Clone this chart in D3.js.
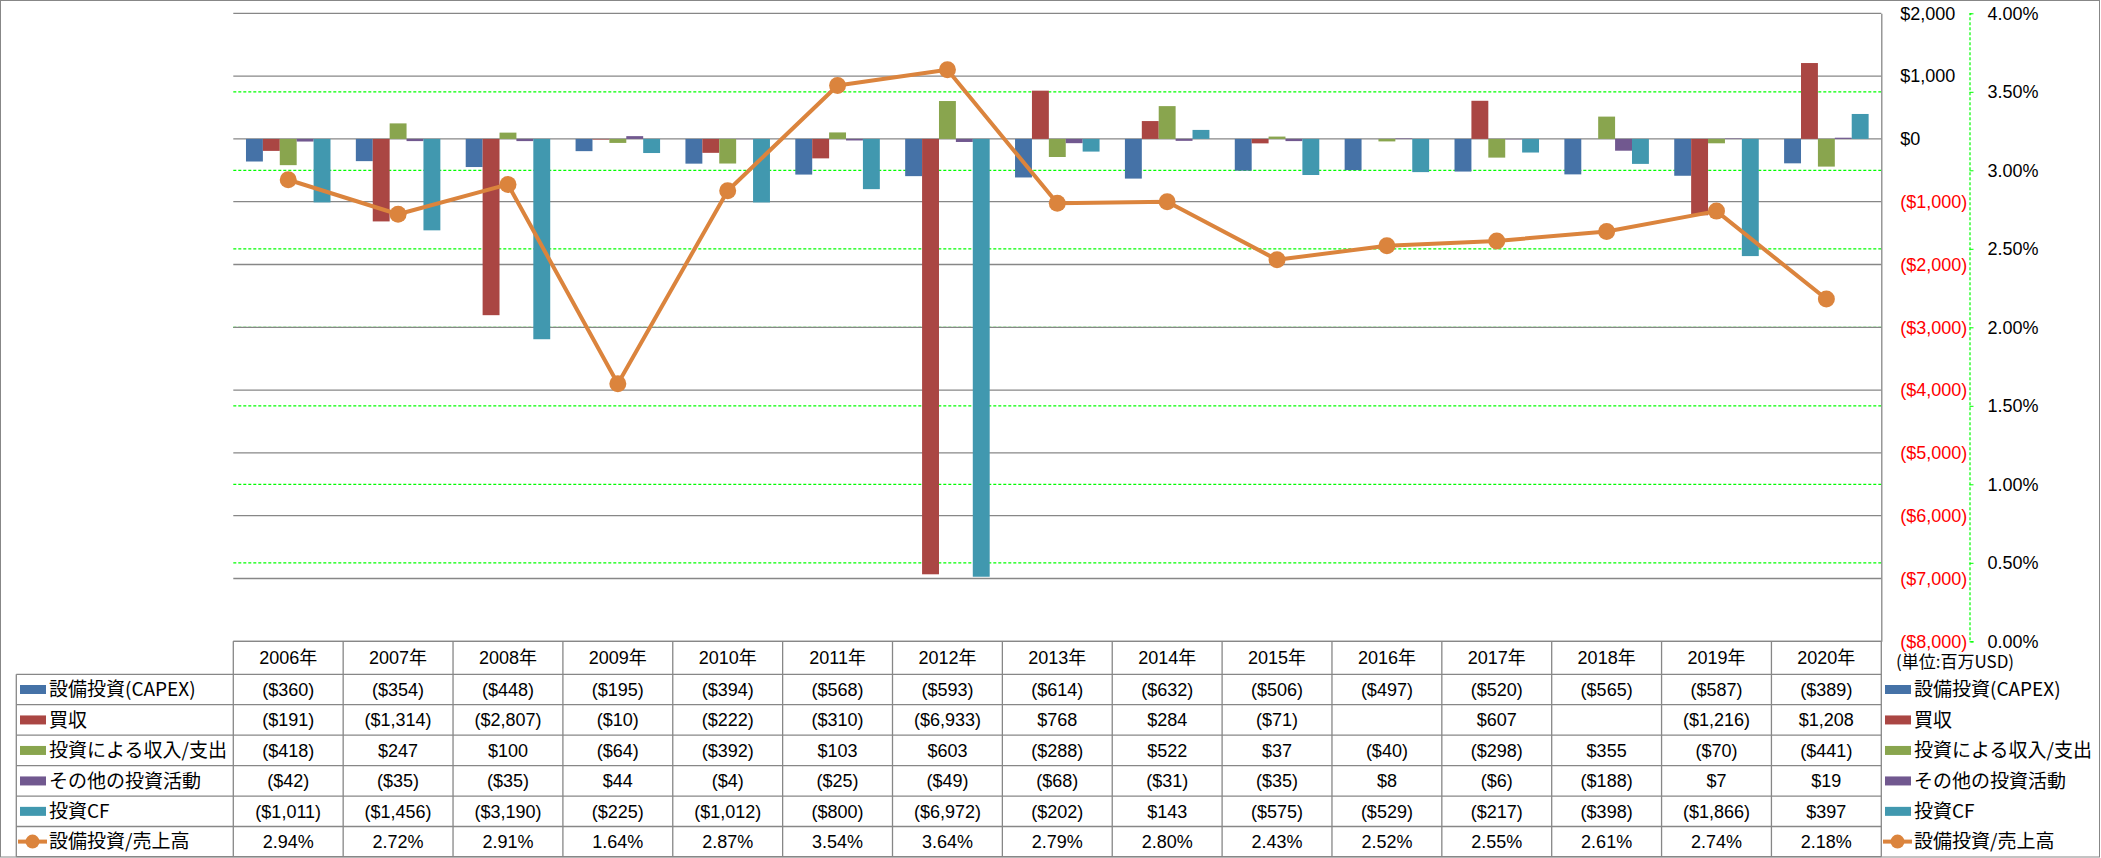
<!DOCTYPE html>
<html>
<head>
<meta charset="utf-8">
<script src="https://cdn.jsdelivr.net/npm/d3@7"></script>
<style>
  html, body { margin: 0; padding: 0; background: #fff; }
  svg { display: block; }
</style>
</head>
<body>
<svg id="chart" width="2101" height="858"></svg>
<script>
// ---------------- DATA ----------------
const years = ['2006年','2007年','2008年','2009年','2010年','2011年','2012年','2013年','2014年','2015年','2016年','2017年','2018年','2019年','2020年'];
const seriesNames = ['設備投資(CAPEX)','買収','投資による収入/支出','その他の投資活動','投資CF'];
const capex        = [-360,-354,-448,-195,-394,-568,-593,-614,-632,-506,-497,-520,-565,-587,-389];
const acquisition  = [-191,-1314,-2807,-10,-222,-310,-6933,768,284,-71,null,607,null,-1216,1208];
const investIncome = [-418,247,100,-64,-392,103,603,-288,522,37,-40,-298,355,-70,-441];
const otherInvest  = [-42,-35,-35,44,-4,-25,-49,-68,-31,-35,8,-6,-188,7,19];
const investCF     = [-1011,-1456,-3190,-225,-1012,-800,-6972,-202,143,-575,-529,-217,-398,-1866,397];
const lineName = '設備投資/売上高';
const capexRatio   = [2.94,2.72,2.91,1.64,2.87,3.54,3.64,2.79,2.80,2.43,2.52,2.55,2.61,2.74,2.18];
const primaryTicks   = [-8000,-7000,-6000,-5000,-4000,-3000,-2000,-1000,0,1000,2000];
const secondaryTicks = [0,0.5,1,1.5,2,2.5,3,3.5,4];
const unitLabel = '(単位:百万USD)';

// ---------------- STYLE / LAYOUT ----------------
const colors = ['#4572A7','#AA4643','#89A54E','#71588F','#4198AF'];
const lineColor = '#DB843D';
const gridColor = '#878787';
const numFont = "'Liberation Sans', 'Noto Sans CJK JP', sans-serif";
const jpFont = "'Noto Sans CJK JP', sans-serif";

const plotL = 233.3, plotR = 1881.3, plotT = 13.3, plotB = 641.3;
const secAxisX = 1969.5;
const rowEdges = [641.3, 674.3, 704.7, 735.2, 765.7, 796.2, 826.5, 856.7];
const tableLeft = 16.3;

const svg = d3.select('#chart');
svg.append('rect').attr('width',2101).attr('height',858).attr('fill','#fff');
// outer frame
svg.append('rect').attr('x',0.5).attr('y',0.5).attr('width',2099).attr('height',856.5)
  .attr('fill','none').attr('stroke',gridColor).attr('stroke-width',1);

// scales
const x0 = d3.scaleBand().domain(years).range([plotL, plotR]).paddingInner(0).paddingOuter(0);
const x1 = d3.scaleBand().domain(seriesNames).range([0, x0.bandwidth()]).paddingInner(0).paddingOuter(0.75);
const y = d3.scaleLinear().domain([-8000, 2000]).range([plotB, plotT]);
const y2 = d3.scaleLinear().domain([0, 4]).range([plotB, plotT]);

// secondary gridlines (green dashed) - drawn beneath primary gridlines
svg.append('g').selectAll('line').data(secondaryTicks.filter(d => d > 0 && d < 4)).join('line')
  .attr('x1', plotL).attr('x2', plotR)
  .attr('y1', d => y2(d)).attr('y2', d => y2(d))
  .attr('stroke', '#00FF00').attr('stroke-width', 1.2).attr('stroke-dasharray', '3,2');

// primary gridlines
svg.append('g').selectAll('line').data(primaryTicks).join('line')
  .attr('x1', plotL).attr('x2', plotR)
  .attr('y1', d => y(d)).attr('y2', d => y(d))
  .attr('stroke', gridColor).attr('stroke-width', 1.3);

// bars
const allSeries = [capex, acquisition, investIncome, otherInvest, investCF];
const barData = [];
allSeries.forEach((arr, si) => arr.forEach((v, i) => {
  if (v !== null) barData.push({ s: seriesNames[si], si, year: years[i], v });
}));
svg.append('g').selectAll('rect').data(barData).join('rect')
  .attr('x', d => x0(d.year) + x1(d.s))
  .attr('width', x1.bandwidth())
  .attr('y', d => y(Math.max(0, d.v)))
  .attr('height', d => Math.abs(y(d.v) - y(0)))
  .attr('fill', d => colors[d.si]);

// line
const cx = yr => x0(yr) + x0.bandwidth() / 2;
const lineGen = d3.line().x((d, i) => cx(years[i])).y(d => y2(d));
svg.append('path').datum(capexRatio).attr('d', lineGen)
  .attr('fill','none').attr('stroke', lineColor).attr('stroke-width', 4).attr('stroke-linejoin','round');
svg.append('g').selectAll('circle').data(capexRatio).join('circle')
  .attr('cx', (d, i) => cx(years[i])).attr('cy', d => y2(d)).attr('r', 8.5)
  .attr('fill', lineColor);

// primary axis (right side of plot)
const fmtMoney = v => v < 0 ? '($' + d3.format(',')(-v) + ')' : '$' + d3.format(',')(v);
const yAxis = d3.axisRight(y).tickValues(primaryTicks).tickSize(0).tickPadding(19).tickFormat(fmtMoney);
const gy = svg.append('g').attr('transform', `translate(${plotR},0)`).call(yAxis);
gy.select('.domain').attr('stroke', gridColor).attr('stroke-width', 1.3);
gy.selectAll('text').attr('font-family', numFont).attr('font-size', 18)
  .attr('fill', d => d < 0 ? '#FF0000' : '#000');

// secondary axis
const y2Axis = d3.axisRight(y2).tickValues(secondaryTicks).tickSize(4).tickPadding(14)
  .tickFormat(d => d3.format('.2f')(d) + '%');
const gy2 = svg.append('g').attr('transform', `translate(${secAxisX},0)`).call(y2Axis);
gy2.select('.domain').attr('stroke', '#00FF00').attr('stroke-dasharray', '3,2').attr('stroke-width', 1.2);
gy2.selectAll('.tick line').attr('stroke', '#00FF00');
gy2.selectAll('text').attr('font-family', numFont).attr('font-size', 18).attr('fill', '#000');

// unit label
svg.append('text').attr('x', 1896).attr('y', 662).attr('dy', '0.35em')
  .attr('font-family', jpFont).attr('font-size', 17).attr('fill', '#000').text(unitLabel);

// ---------------- DATA TABLE ----------------
const tbl = svg.append('g');
const colEdges = years.map(yr => x0(yr)).concat([plotR]);
// horizontal lines
tbl.append('line').attr('x1', plotL).attr('x2', plotR).attr('y1', rowEdges[0]).attr('y2', rowEdges[0])
  .attr('stroke', gridColor).attr('stroke-width', 1.3);
tbl.selectAll('line.h').data(rowEdges.slice(1)).join('line').attr('class','h')
  .attr('x1', tableLeft).attr('x2', plotR).attr('y1', d => d).attr('y2', d => d)
  .attr('stroke', gridColor).attr('stroke-width', 1.3);
// vertical lines
tbl.selectAll('line.v').data(colEdges).join('line').attr('class','v')
  .attr('x1', d => d).attr('x2', d => d).attr('y1', rowEdges[0]).attr('y2', rowEdges[7])
  .attr('stroke', gridColor).attr('stroke-width', 1.3);
tbl.append('line').attr('x1', tableLeft).attr('x2', tableLeft).attr('y1', rowEdges[1]).attr('y2', rowEdges[7])
  .attr('stroke', gridColor).attr('stroke-width', 1.3);

const rowMid = i => (rowEdges[i] + rowEdges[i + 1]) / 2;
// header
tbl.selectAll('text.hdr').data(years).join('text').attr('class','hdr')
  .attr('x', d => cx(d)).attr('y', rowMid(0)).attr('dy','0.35em').attr('text-anchor','middle')
  .attr('font-family', numFont).attr('font-size', 18).attr('fill','#000').text(d => d);

const rows = allSeries.map((arr, si) => ({ name: seriesNames[si], color: colors[si], vals: arr.map(v => v === null ? '' : fmtMoney(v)), type: 'bar' }));
rows.push({ name: lineName, color: lineColor, vals: capexRatio.map(v => d3.format('.2f')(v) + '%'), type: 'line' });

function drawKey(g, x, yc, r) {
  if (r.type === 'bar') {
    g.append('rect').attr('x', x).attr('y', yc - 4.5).attr('width', 26).attr('height', 9).attr('fill', r.color);
  } else {
    g.append('line').attr('x1', x - 2).attr('x2', x + 27).attr('y1', yc).attr('y2', yc)
      .attr('stroke', r.color).attr('stroke-width', 4);
    g.append('circle').attr('cx', x + 12.5).attr('cy', yc).attr('r', 7).attr('fill', r.color);
  }
}

rows.forEach((r, ri) => {
  const yc = rowMid(ri + 1);
  drawKey(tbl, 20, yc, r);
  tbl.append('text').attr('x', 49).attr('y', yc).attr('dy','0.36em')
    .attr('font-family', jpFont).attr('font-size', 19).attr('fill','#000').text(r.name);
  tbl.selectAll(null).data(r.vals).join('text')
    .attr('x', (d, i) => cx(years[i])).attr('y', yc).attr('dy','0.35em').attr('text-anchor','middle')
    .attr('font-family', numFont).attr('font-size', 18).attr('fill','#000').text(d => d);
  // right-side legend
  drawKey(tbl, 1885, yc, r);
  tbl.append('text').attr('x', 1914).attr('y', yc).attr('dy','0.36em')
    .attr('font-family', jpFont).attr('font-size', 19).attr('fill','#000').text(r.name);
});
</script>
</body>
</html>
